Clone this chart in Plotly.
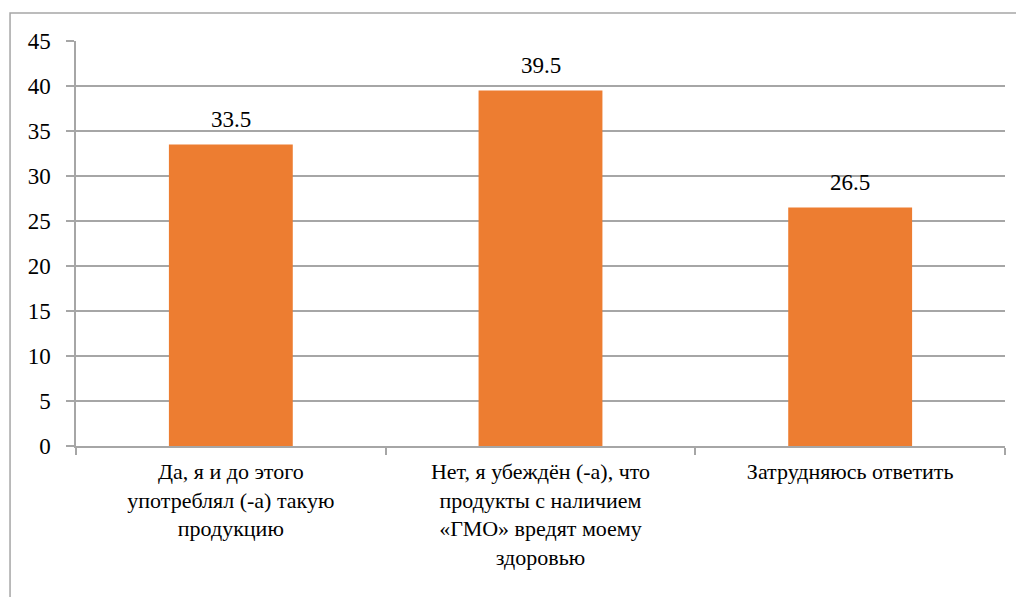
import plotly.graph_objects as go

categories = [
    "Да, я и до этого<br>употреблял (-а) такую<br>продукцию",
    "Нет, я убеждён (-а), что<br>продукты с наличием<br>«ГМО» вредят моему<br>здоровью",
    "Затрудняюсь ответить",
]
values = [33.5, 39.5, 26.5]
y_ticks = [0, 5, 10, 15, 20, 25, 30, 35, 40, 45]

BAR = "#ED7D31"
GRID = "#A6A6A6"
FAMILY = "'Liberation Serif', 'Times New Roman', serif"
FONT = dict(family=FAMILY, size=23, color="#000000")
CAT_FONT = dict(family=FAMILY, size=22, color="#000000")

fig = go.Figure()
fig.add_trace(go.Bar(
    x=categories, y=values, width=0.4,
    marker=dict(color=BAR, line=dict(width=0)),
    showlegend=False,
))

for c, v in zip(categories, values):
    fig.add_annotation(x=c, y=v, text=f"{v:.1f}", showarrow=False,
                       yanchor="bottom", yshift=11, font=FONT)

fig.update_layout(
    width=1024, height=597,
    margin=dict(l=68, r=27, t=33, b=159),
    paper_bgcolor="white", plot_bgcolor="white",
    font=FONT,
    xaxis=dict(showgrid=False, zeroline=False, showline=True, linecolor=GRID,
               linewidth=1.5, ticks="outside", tickson="boundaries",
               ticklen=7, tickcolor=GRID, tickwidth=1.5, tickfont=CAT_FONT,
               ticklabelstandoff=5, automargin=False),
    yaxis=dict(range=[0, 45], tickvals=y_ticks, showgrid=True, gridcolor=GRID,
               gridwidth=1.5, zeroline=False, showline=True, linecolor=GRID,
               linewidth=1.5, ticks="outside", ticklen=8, tickcolor=GRID,
               tickwidth=1.5, tickfont=FONT, ticklabelstandoff=11,
               automargin=False),
    shapes=[dict(type="rect", xref="paper", yref="paper",
                 x0=-0.071, x1=1.05, y0=-0.45, y1=1.069,
                 line=dict(color=GRID, width=1.5), layer="below")],
)

fig.write_html("out.html")
